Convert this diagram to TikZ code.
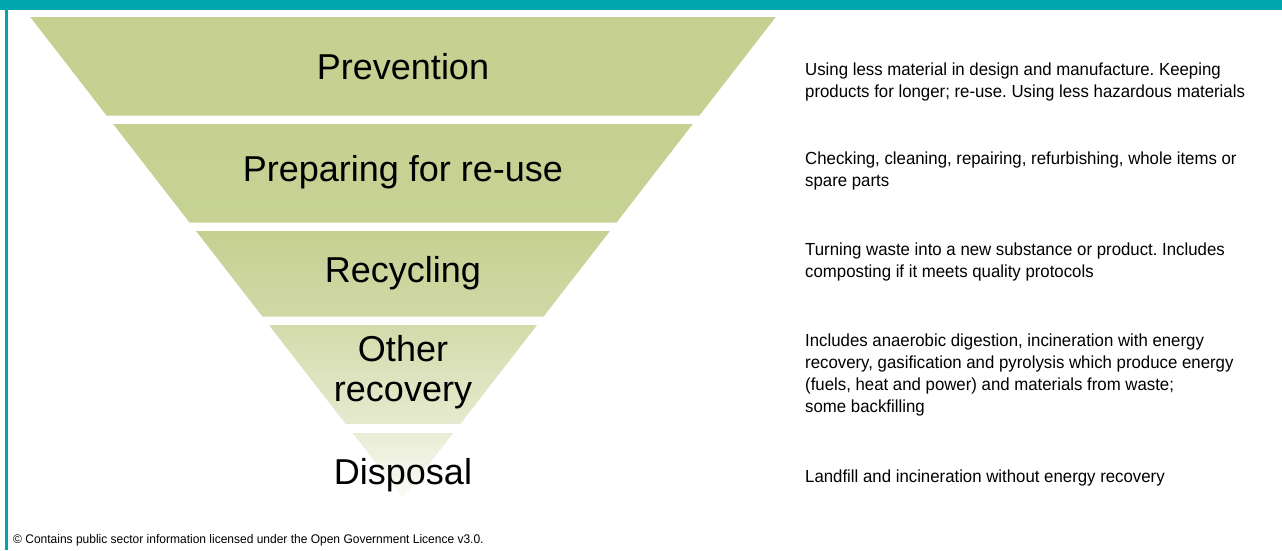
\documentclass[tikz,border=0pt]{standalone}
\usepackage{fontspec}
\setmainfont{Liberation Sans}
\newfontfamily\notefont{Liberation Sans}[FakeStretch=0.96]
\usetikzlibrary{shadings}
\definecolor{hierteal}{HTML}{00A6AD}
\definecolor{hiergreen}{HTML}{C5D091}
\frenchspacing

\begin{document}
\begin{tikzpicture}[x=1pt,y=-1pt,
    tier/.style={anchor=base,align=center,inner sep=0pt,font=\fontsize{36}{39.5}\selectfont},
    note/.style={anchor=base west,align=left,inner sep=0pt,font=\notefont\fontsize{17.5}{21.8}\selectfont}]
    \useasboundingbox (0,0) rectangle (1282,550);
    % frame
    \fill[hierteal] (0,0) rectangle (1282,9.5);
    \fill[hierteal] (5,0) rectangle (7.5,550);
    % funnel, apex at (403,498)
    \foreach \ya/\yb/\ka/\kb in {17/115.5/100/100,124/222.5/100/97,231/316.5/100/80,325/424/76/44,433/498/38/8}
      \shade[top color=hiergreen!\ka!white,bottom color=hiergreen!\kb!white]
        ({403-(498-\ya)*0.775},\ya) -- ({403+(498-\ya)*0.775},\ya)
        -- ({403+(498-\yb)*0.775},\yb) -- ({403-(498-\yb)*0.775},\yb) -- cycle;
    % base anchor = baseline of the last line
    \node[tier] (prevention) at (403,79.5) {Prevention};
    \node[tier] (reuse) at (403,181.5) {Preparing for re-use};
    \node[tier] (recycling) at (403,282.5) {Recycling};
    \node[tier] (recovery) at (403,401) {Other\\recovery};
    \node[tier] (disposal) at (403,484) {Disposal};
    % notes
    \node[note] (preventionnote) at (805,97.5) {Using less material in design and manufacture. Keeping\\products for longer; re-use. Using less hazardous materials};
    \node[note] (reusenote) at (805,186) {Checking, cleaning, repairing, refurbishing, whole items or\\spare parts};
    \node[note] (recyclingnote) at (805,277.7) {Turning waste into a new substance or product. Includes\\composting if it meets quality protocols};
    \node[note] (recoverynote) at (805,412.3) {Includes anaerobic digestion, incineration with energy\\recovery, gasification and pyrolysis which produce energy\\(fuels, heat and power) and materials from waste;\\some backfilling};
    \node[note] (disposalnote) at (805,482.3) {Landfill and incineration without energy recovery};
    \node[note,font=\notefont\fontsize{12.5}{14}\selectfont] (licence) at (13,543.3) {© Contains public sector information licensed under the Open Government Licence v3.0.};
  \end{tikzpicture}
\end{document}
